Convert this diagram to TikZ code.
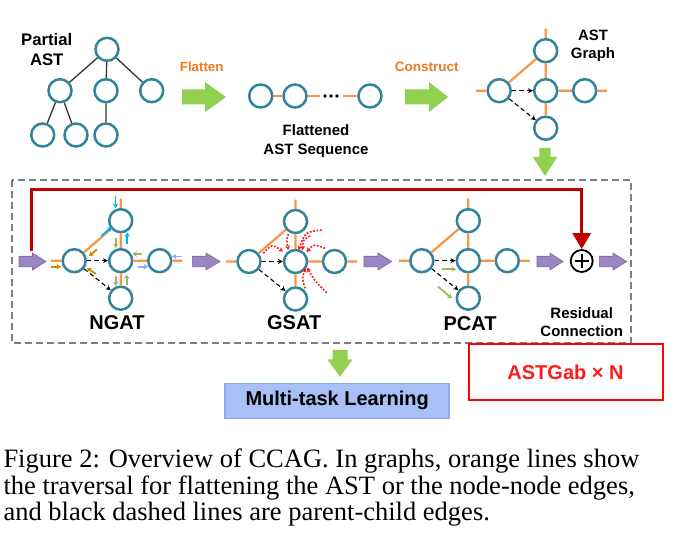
\documentclass[tikz,border=0pt]{standalone}
\usepackage{fontspec}
\setmainfont{Liberation Serif}
\newfontfamily\lsans{Liberation Sans}
\usetikzlibrary{arrows.meta}
\definecolor{cteal}{HTML}{31849B}
\definecolor{corange}{HTML}{F79646}
\definecolor{ctxtor}{HTML}{EE7A24}
\definecolor{cgreen}{HTML}{92D050}
\definecolor{cpurple}{HTML}{9A86C2}
\definecolor{cpurpled}{HTML}{8064A2}
\definecolor{cred}{HTML}{C00000}
\definecolor{cbrred}{HTML}{FF1A1A}
\definecolor{ccyan}{HTML}{00B0F0}
\definecolor{colive}{HTML}{9BBB59}
\definecolor{cgold}{HTML}{BF9000}
\definecolor{clblue}{HTML}{8EA9F5}
\definecolor{cgray}{HTML}{A6A6A6}
\definecolor{cmt}{HTML}{A9C0F6}
\definecolor{cmtb}{HTML}{8FAAE8}
\definecolor{cdash}{HTML}{7F7F7F}

\newcommand\astg[3]{%
 \begin{scope}[shift={(#2,#3)}]
 \node[cnode] (#1c) at (0,0) {};
 \node[cnode] (#1t) at (0,-40) {};
 \node[cnode] (#1l) at (-46.5,0) {};
 \node[cnode] (#1r) at (39,0) {};
 \node[cnode] (#1b) at (0,37.5) {};
 \coordinate (#1ts) at (0,-62);
 \coordinate (#1ls) at (-69.5,0);
 \coordinate (#1rs) at (61.5,0);
 \draw[oline] (#1t)--(#1ts) (#1t)--(#1c) (#1c)--(#1r) (#1c)--(#1b) (#1t)--(#1l) (#1l)--(#1ls) (#1r)--(#1rs);
 \draw[pcedge] (#1l)--(#1c);
 \draw[pcedge] (#1l)--(#1b);
 \end{scope}}
% right block arrow: x0 xh x1 yc bodyhalf headhalf style
\newcommand\rblk[7]{\filldraw[#7] (#1,{#4-#5}) -- (#2,{#4-#5}) -- (#2,{#4-#6}) -- (#3,#4) -- (#2,{#4+#6}) -- (#2,{#4+#5}) -- (#1,{#4+#5}) -- cycle;}
% down block arrow: y0 yh y1 xc bodyhalf headhalf style
\newcommand\dblk[7]{\filldraw[#7] ({#4-#5},#1) -- ({#4-#5},#2) -- ({#4-#6},#2) -- (#4,#3) -- ({#4+#6},#2) -- ({#4+#5},#2) -- ({#4+#5},#1) -- cycle;}

\begin{document}
\begin{tikzpicture}[x=1pt,y=-1pt,
  cnode/.style={circle, draw=cteal, line width=2.5pt, minimum size=23pt, inner sep=0pt, fill=white},
  oline/.style={draw=corange, line width=2.2pt},
  tline/.style={draw=black!80, line width=1.3pt},
  pcedge/.style={draw=black, line width=1.1pt, dash pattern=on 4.5pt off 3pt, -{Stealth[length=5pt,width=5pt]}},
  sarr/.style={line width=1.8pt, -{Stealth[length=4.5pt,width=5.5pt]}},
  rdot/.style={draw=cbrred, line width=1.6pt, dash pattern=on 1.8pt off 1.6pt, -{Stealth[length=4.5pt,width=5pt]}},
  lbl/.style={font=\lsans\bfseries, align=center, inner sep=0pt},
  greenblk/.style={fill=cgreen, draw=none},
  purpleblk/.style={fill=cpurple, draw=cpurpled, line width=0.6pt}]
\useasboundingbox (0,0) rectangle (674,540);

% ---------- Partial AST ----------
\node[lbl, font=\lsans\bfseries\fontsize{16.7}{20}\selectfont] (lpa) at (46.7,50) {Partial\\AST};
\node[cnode] (ta) at (107,49.3) {};
\node[cnode] (tb1) at (60,90.7) {};
\node[cnode] (tb2) at (106,90.7) {};
\node[cnode] (tb3) at (151.7,90.7) {};
\node[cnode] (tc1) at (42.7,135) {};
\node[cnode] (tc2) at (76,135) {};
\node[cnode] (tc3) at (106,135) {};
\draw[tline] (ta)--(tb1) (ta)--(tb2) (ta)--(tb3) (tb1)--(tc1) (tb1)--(tc2) (tb2)--(tc3);

% ---------- Flatten ----------
\node[lbl, text=ctxtor, font=\lsans\bfseries\fontsize{13.3}{16}\selectfont] (lfl) at (201.7,66.7) {Flatten};
\rblk{182}{205}{226}{97}{7.5}{15}{greenblk}

% ---------- Flattened sequence ----------
\node[cnode] (f1) at (260.7,96) {};
\node[cnode] (f2) at (295,96) {};
\node[cnode] (f3) at (370,96) {};
\coordinate (fd1) at (320,96);
\coordinate (fd2) at (343,96);
\draw[oline] (f1)--(f2) (f2)--(fd1) (fd2)--(f3);
\fill (325,96) circle (1.8) (331,96) circle (1.8) (337,96) circle (1.8);
\node[lbl, font=\lsans\bfseries\fontsize{15}{18.3}\selectfont] (lfs) at (316,141) {Flattened\\AST Sequence};

% ---------- Construct ----------
\node[lbl, text=ctxtor, font=\lsans\bfseries\fontsize{13.5}{16}\selectfont] (lco) at (426.7,66.7) {Construct};
\rblk{405}{429}{448}{97}{7.5}{15}{greenblk}

% ---------- AST graph ----------
\astg{ag}{545.7}{90.7}
\node[lbl, font=\lsans\bfseries\fontsize{15}{18.3}\selectfont] (lag) at (593,46) {AST\\Graph};
\dblk{148}{157}{176}{545}{5.7}{12.2}{greenblk}

% ---------- ASTGab block ----------
\draw[cdash, line width=1.8pt, dash pattern=on 7pt off 4pt] (12,180) rectangle (631,343);

% purple arrows
\rblk{19}{32.5}{46}{261.5}{5.3}{8.5}{purpleblk}
\rblk{192.3}{206}{220}{261.5}{5.3}{8.5}{purpleblk}
\rblk{364}{378}{391.7}{261.5}{5.3}{8.5}{purpleblk}
\rblk{537}{550}{563}{261.5}{5.3}{8.5}{purpleblk}
\rblk{599.3}{613}{626.7}{261.5}{5.3}{8.5}{purpleblk}

% NGAT
\astg{ng}{120.7}{260.7}
\node[lbl, font=\lsans\bfseries\fontsize{20}{24}\selectfont] (lng) at (117,323) {NGAT};
\draw[sarr, ccyan] (115.5,196) -- (115.5,208);
\draw[sarr, ccyan] (101.2,236) -- (111.8,227);
\draw[sarr, ccyan] (127.3,244) -- (127.3,232.5);
\draw[sarr, colive] (115.7,238) -- (115.7,248);
\draw[sarr, cgold] (51,266.7) -- (61,266.7);
\draw[sarr, cgold] (97,249.5) -- (89,256);
\draw[sarr, cgold] (96,273.8) -- (87,268);
\draw[sarr, colive] (142,254) -- (132.5,254);
\draw[sarr, clblue] (138,266.7) -- (148,266.7);
\draw[sarr, clblue] (182,256.5) -- (172,256.5);
\draw[sarr, cgray] (115.7,275.5) -- (115.7,286);
\draw[sarr, colive] (126.7,285) -- (126.7,274.5);

% GSAT
\astg{gs}{295.5}{261.5}
\node[lbl, font=\lsans\bfseries\fontsize{20}{24}\selectfont] (lgs) at (294.2,323) {GSAT};
\draw[rdot] (288.3,234) .. controls (286.5,240) .. (288.3,250);
\draw[rdot] (310,236) .. controls (303,240) .. (302.5,250.5);
\draw[rdot] (321.7,230) .. controls (305,232) .. (298.5,250);
\draw[rdot] (263.3,253.3) .. controls (272,244) .. (283,251.5);
\draw[rdot] (325,248.3) .. controls (314,244) .. (306.5,252);
\draw[rdot] (326.7,292.7) .. controls (314,280) .. (307,267.5);
\draw[rdot] (305,288.3) .. controls (302,278) .. (305.5,268);

% PCAT
\astg{pc}{468.3}{260.7}
\node[lbl, font=\lsans\bfseries\fontsize{20}{24}\selectfont] (lpc) at (470,324) {PCAT};
\draw[sarr, colive] (441.5,269.3) -- (456,269.3);
\draw[sarr, colive] (438,286.5) -- (452,298.5);

% residual
\node[circle, draw=black, line width=1.8pt, minimum size=22pt, inner sep=0pt] (op) at (581.7,261) {};
\draw[line width=1.8pt] ([xshift=-7pt]op.center) -- ([xshift=7pt]op.center) ([yshift=-7pt]op.center) -- ([yshift=7pt]op.center);
\node[lbl, font=\lsans\bfseries\fontsize{15}{18.3}\selectfont] (lres) at (581.7,322) {Residual\\Connection};
\coordinate (rstart) at (31.7,251);
\coordinate (rtop) at (581.7,189.3);
\draw[draw=cred, line width=3pt, -{Triangle[width=18pt,length=16pt]}] (rstart) |- (rtop) -- (op);

% ---------- bottom ----------
\dblk{350}{359.3}{376.7}{340}{7.5}{12.7}{greenblk}
\node[lbl, draw=cmtb, fill=cmt, line width=1.5pt, minimum width=224pt, minimum height=35pt, font=\lsans\bfseries\fontsize{20}{24}\selectfont] (mtl) at (337.2,400.8) {Multi-task Learning};
\node[lbl, draw=red, line width=2pt, minimum width=194pt, minimum height=56pt, text=cbrred, font=\lsans\bfseries\fontsize{20}{24}\selectfont] (gab) at (565.5,372) {ASTGab × N};

% ---------- caption ----------
\node[anchor=base west, inner sep=0pt, font=\fontsize{26.5}{27}\selectfont] (cap1) at (3.3,467.3) {Figure 2: Overview of CCAG. In graphs, orange lines show};
\node[anchor=base west, inner sep=0pt, font=\fontsize{26.5}{27}\selectfont] (cap2) at (3.3,494) {the traversal for flattening the AST or the node-node edges,};
\node[anchor=base west, inner sep=0pt, font=\fontsize{26.5}{27}\selectfont] (cap3) at (3.3,520.7) {and black dashed lines are parent-child edges.};
\end{tikzpicture}
\end{document}
